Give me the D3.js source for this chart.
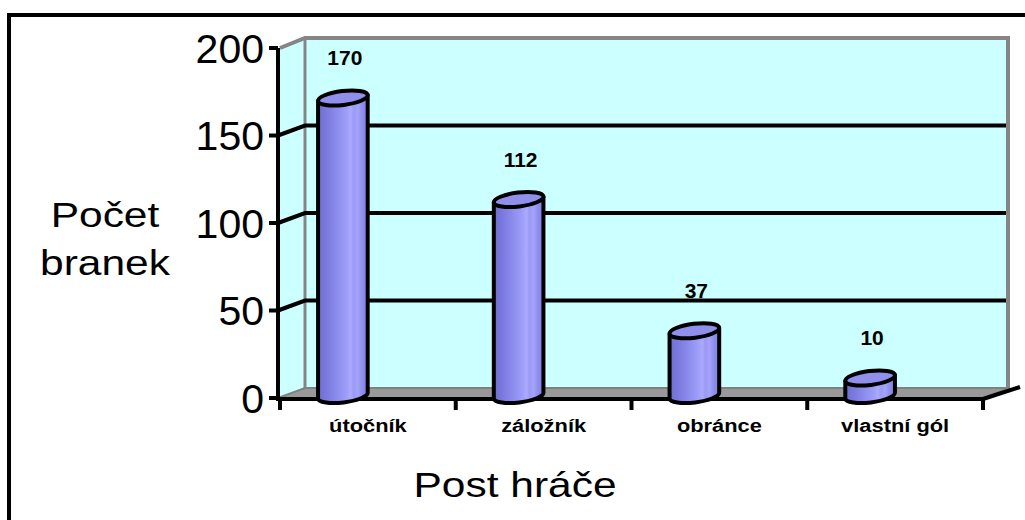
<!DOCTYPE html>
<html>
<head>
<meta charset="utf-8">
<script src="https://cdn.jsdelivr.net/npm/d3@7"></script>
<style>
  body { margin: 0; background: #fff; }
  text { font-family: Arial, "Liberation Sans", sans-serif; fill: #000; }
</style>
</head>
<body>
<svg></svg>
<script>
// data
let categories = ['útočník', 'záložník', 'obránce', 'vlastní gól'];
let goals = [170, 112, 37, 10];
let yTicks = [0, 50, 100, 150, 200];
let gridValues = [50, 100, 150];

let width = 1025;
let height = 520;

// the fake 3D depth of the plot box
let depthX = 27;
let depthY = -10;

let svg = d3.select('svg').attr('width', width).attr('height', height);

let yScale = d3.scaleLinear().domain([0, 200]).range([398, 48]);
let xScale = d3.scaleBand().domain(categories).range([280, 983]);

let axisX = 278;
let right = xScale.range()[1];
let backRight = right + depthX - 2;

// outer frame
svg.append('rect')
   .attr('x', 9).attr('y', 15)
   .attr('width', 1100).attr('height', 600)
   .attr('fill', 'none').attr('stroke', '#000').attr('stroke-width', 4);

let defs = svg.append('defs');
let grad = defs.append('linearGradient').attr('id', 'cyl').attr('x1', 0).attr('x2', 1).attr('y1', 0).attr('y2', 0);
[[0, '#6c6cd2'], [0.3, '#8585e8'], [0.55, '#9b9bf8'], [0.66, '#aaaaff'], [0.72, '#9a9af4'], [0.8, '#a4a4fc'], [0.9, '#8c8cea'], [1, '#8282e2']]
  .forEach(s => grad.append('stop').attr('offset', s[0]).attr('stop-color', s[1]));

let plotTop = yScale(200);
let base = yScale(0);

// side wall
svg.append('polygon')
   .attr('points', [[axisX, plotTop], [axisX + depthX, plotTop + depthY], [axisX + depthX, base + depthY], [axisX, base]].join(' '))
   .attr('fill', '#ccffff');

// back wall
svg.append('rect')
   .attr('x', axisX + depthX).attr('y', plotTop + depthY)
   .attr('width', backRight - axisX - depthX).attr('height', base - plotTop)
   .attr('fill', '#ccffff');

// floor
svg.append('polygon')
   .attr('points', [[axisX, base], [axisX + depthX, base + depthY], [backRight + 2, base + depthY], [right, base]].join(' '))
   .attr('fill', '#999999').attr('stroke', '#808080').attr('stroke-width', 2);

// gray edges of the walls
svg.append('path')
   .attr('d', `M${axisX + 2},${plotTop} L${axisX + depthX},${plotTop + depthY} L${backRight},${plotTop + depthY} L${backRight},${base + depthY}`)
   .attr('fill', 'none').attr('stroke', '#858585').attr('stroke-width', 4);
svg.append('line')
   .attr('x1', axisX + depthX).attr('x2', axisX + depthX)
   .attr('y1', plotTop + depthY).attr('y2', base + depthY)
   .attr('stroke', '#858585').attr('stroke-width', 3);

// gridlines
svg.selectAll('.grid')
   .data(gridValues)
   .enter()
   .append('path')
   .attr('class', 'grid')
   .attr('d', d => `M${axisX},${yScale(d)} L${axisX + depthX},${yScale(d) + depthY} L${backRight - 2},${yScale(d) + depthY}`)
   .attr('fill', 'none').attr('stroke', '#000').attr('stroke-width', 4);

// front x axis with ticks
svg.append('line')
   .attr('x1', axisX).attr('x2', right).attr('y1', base + 1).attr('y2', base + 1)
   .attr('stroke', '#000').attr('stroke-width', 4);
svg.append('line')
   .attr('x1', right).attr('x2', right + depthX + 10).attr('y1', base + 1).attr('y2', base + depthY - 1)
   .attr('stroke', '#000').attr('stroke-width', 4);
let edges = categories.map(c => xScale(c)).concat([right]);
svg.selectAll('.xtick')
   .data(edges)
   .enter()
   .append('line')
   .attr('class', 'xtick')
   .attr('x1', d => d).attr('x2', d => d)
   .attr('y1', base).attr('y2', base + 12)
   .attr('stroke', '#000').attr('stroke-width', 4);

// y axis with ticks
svg.append('line')
   .attr('x1', axisX).attr('x2', axisX).attr('y1', plotTop).attr('y2', base + 3)
   .attr('stroke', '#000').attr('stroke-width', 4);
svg.selectAll('.ytick')
   .data(yTicks)
   .enter()
   .append('line')
   .attr('class', 'ytick')
   .attr('x1', axisX - 9).attr('x2', axisX)
   .attr('y1', d => yScale(d)).attr('y2', d => yScale(d))
   .attr('stroke', '#000').attr('stroke-width', 4);
svg.selectAll('.ylabel')
   .data(yTicks)
   .enter()
   .append('text')
   .attr('class', 'ylabel')
   .attr('x', 264).attr('y', d => yScale(d))
   .attr('dy', '0.36em')
   .attr('text-anchor', 'end')
   .style('font-size', '41px')
   .text(d => d);

// cylinders
let rx = 25;
let ry = 7;
let tilt = -7;
let rad = tilt * Math.PI / 180;
let ex = rx * Math.cos(rad);
let ey = rx * Math.sin(rad);
let cx = c => xScale(c) + xScale.bandwidth() / 2 - 25;
let topY = v => yScale(v) - 2.5;
let botY = yScale(0) - 2.5;

let cyl = svg.selectAll('.cyl')
   .data(goals)
   .enter()
   .append('g')
   .attr('class', 'cyl');

cyl.append('path')
   .attr('d', (d, i) => {
     let x = cx(categories[i]);
     let t = topY(d);
     return `M${x - ex},${t - ey} L${x - ex},${botY - ey} A${rx},${ry} ${tilt} 0 0 ${x + ex},${botY + ey} L${x + ex},${t + ey} Z`;
   })
   .attr('fill', 'url(#cyl)')
   .attr('stroke', '#000').attr('stroke-width', 4).attr('stroke-linejoin', 'round');

cyl.append('ellipse')
   .attr('cx', 0).attr('cy', 0)
   .attr('rx', rx).attr('ry', ry)
   .attr('transform', (d, i) => `translate(${cx(categories[i])},${topY(d)}) rotate(${tilt})`)
   .attr('fill', '#9090ec')
   .attr('stroke', '#000').attr('stroke-width', 4);

// value labels
svg.selectAll('.value')
   .data(goals)
   .enter()
   .append('text')
   .attr('class', 'value')
   .attr('x', (d, i) => cx(categories[i]) + 2)
   .attr('y', d => topY(d) - 33)
   .attr('text-anchor', 'middle')
   .style('font-size', '21px').style('font-weight', 'bold')
   .text(d => d);

// category labels
svg.selectAll('.cat')
   .data(categories)
   .enter()
   .append('text')
   .attr('class', 'cat')
   .attr('transform', d => `translate(${xScale(d) + xScale.bandwidth() / 2},432) scale(1.15,1)`)
   .attr('text-anchor', 'middle')
   .style('font-size', '19px').style('font-weight', 'bold')
   .text(d => d);

// axis titles
let yTitle = svg.append('text')
   .attr('text-anchor', 'middle')
   .style('font-size', '36px');
yTitle.append('tspan').attr('x', 0).attr('y', 0).text('Počet');
yTitle.append('tspan').attr('x', 0).attr('y', 48).text('branek');
yTitle.attr('transform', 'translate(105,227) scale(1.18,1)');

svg.append('text')
   .attr('transform', 'translate(515,497) scale(1.18,1)')
   .attr('text-anchor', 'middle')
   .style('font-size', '36px')
   .text('Post hráče');
</script>
</body>
</html>
